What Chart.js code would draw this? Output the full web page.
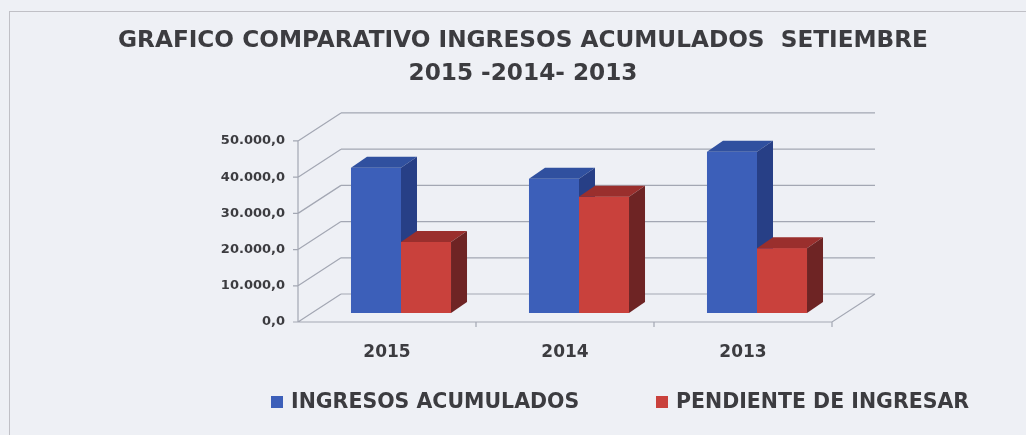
<!DOCTYPE html>
<html lang="es">
<head>
    <meta charset="UTF-8">
    <title>Grafico comparativo ingresos acumulados</title>
    <style>
        body {
            margin: 0;
            background: #eef0f5;
        }
        .frame {
            position: absolute;
            left: 9px;
            top: 11px;
            width: 1040px;
            height: 460px;
            border: 1px solid #c0c0c6;
        }
        canvas {
            position: absolute;
            left: 0;
            top: 0;
        }
    </style>
    <script src="https://cdn.jsdelivr.net/npm/chart.js"></script>
</head>
<body>
<div class="frame"></div>
<canvas id="chart" width="1026" height="435"></canvas>

<script>
    // data
    const years = ['2015', '2014', '2013'];
    const ingresosAcumulados = [40100, 37100, 44500];
    const pendienteIngresar = [19600, 32100, 17900];
    const yTicks = [0, 10000, 20000, 30000, 40000, 50000];

    // 3d look
    const wallDx = 43, wallDy = 28;   // back wall offset
    const barDx = 14, barDy = 9;      // bars stand a bit behind the front edge
    const depthX = 16, depthY = 11;   // depth of each bar
    const gridColor = '#a3a7b3';
    const textColor = '#3c3c40';
    const fontFamily = '"DejaVu Sans", sans-serif';

    const faces = [
        { front: '#3c5fb9', top: '#30509f', side: '#273f86' },
        { front: '#c9413c', top: '#9a2f2d', side: '#6e2424' }
    ];

    function fmt(v) {
        // 40000 -> 40.000,0
        return v.toLocaleString('de-DE', { minimumFractionDigits: 1, maximumFractionDigits: 1 });
    }

    function drawFaces(ctx, meta, c) {
        meta.data.forEach(bar => {
            const l = bar.x - bar.width / 2, r = bar.x + bar.width / 2;
            const t = bar.y, b = bar.base;
            ctx.fillStyle = c.top;
            ctx.beginPath();
            ctx.moveTo(l, t);
            ctx.lineTo(l + depthX, t - depthY);
            ctx.lineTo(r + depthX, t - depthY);
            ctx.lineTo(r, t);
            ctx.closePath();
            ctx.fill();
            ctx.fillStyle = c.side;
            ctx.beginPath();
            ctx.moveTo(r, t);
            ctx.lineTo(r + depthX, t - depthY);
            ctx.lineTo(r + depthX, b - depthY);
            ctx.lineTo(r, b);
            ctx.closePath();
            ctx.fill();
        });
    }

    const walls3d = {
        id: 'walls3d',
        beforeDatasetsDraw(chart) {
            const ctx = chart.ctx;
            const y = chart.scales.y;
            const left = chart.chartArea.left, right = chart.chartArea.right;
            const bottom = y.getPixelForValue(0);
            ctx.save();
            ctx.strokeStyle = gridColor;
            ctx.lineWidth = 1.2;
            ctx.beginPath();
            yTicks.forEach(v => {
                const py = y.getPixelForValue(v);
                // back wall line
                ctx.moveTo(left + wallDx, py - wallDy);
                ctx.lineTo(right + wallDx, py - wallDy);
                // side wall diagonal
                ctx.moveTo(left, py);
                ctx.lineTo(left + wallDx, py - wallDy);
                // tick mark
                ctx.moveTo(left - 5, py);
                ctx.lineTo(left, py);
            });
            // front axis
            ctx.moveTo(left, y.getPixelForValue(yTicks[yTicks.length - 1]));
            ctx.lineTo(left, bottom);
            // floor
            ctx.moveTo(left, bottom);
            ctx.lineTo(right, bottom);
            ctx.lineTo(right + wallDx, bottom - wallDy);
            // category ticks
            for (let i = 1; i <= years.length; i++) {
                const px = left + (right - left) * i / years.length;
                ctx.moveTo(px, bottom);
                ctx.lineTo(px, bottom + 5);
            }
            ctx.stroke();
            ctx.restore();

            ctx.save();
            ctx.translate(barDx, -barDy);
        },
        afterDatasetsDraw(chart) {
            const ctx = chart.ctx;
            // chart.js paints the red set first, so repaint it over the blue depth
            const blue = chart.getDatasetMeta(0);
            const red = chart.getDatasetMeta(1);
            drawFaces(ctx, blue, faces[0]);
            red.data.forEach(el => el.draw(ctx));
            drawFaces(ctx, red, faces[1]);
            ctx.restore();
        },
        afterDraw(chart) {
            // legend
            const ctx = chart.ctx;
            const items = [{ x: 271 }, { x: 656 }];
            ctx.save();
            ctx.font = 'bold 20.5px ' + fontFamily;
            ctx.textBaseline = 'middle';
            chart.data.datasets.forEach((ds, i) => {
                ctx.fillStyle = ds.backgroundColor;
                ctx.fillRect(items[i].x, 396, 12, 12);
                ctx.fillStyle = textColor;
                ctx.fillText(ds.label, items[i].x + 20, 403);
            });
            ctx.restore();
        }
    };

    new Chart(document.getElementById('chart'), {
        type: 'bar',
        data: {
            labels: years,
            datasets: [
                {
                    label: 'INGRESOS ACUMULADOS',
                    data: ingresosAcumulados,
                    backgroundColor: faces[0].front,
                    categoryPercentage: 0.562,
                    barPercentage: 1,
                    clip: false
                },
                {
                    label: 'PENDIENTE DE INGRESAR',
                    data: pendienteIngresar,
                    backgroundColor: faces[1].front,
                    categoryPercentage: 0.562,
                    barPercentage: 1,
                    clip: false
                }
            ]
        },
        options: {
            responsive: false,
            animation: false,
            layout: {
                padding: { left: 20, right: 0, top: 0, bottom: 0 }
            },
            scales: {
                x: {
                    grid: { display: false, drawTicks: false },
                    border: { display: false },
                    ticks: {
                        padding: 20,
                        color: textColor,
                        font: { family: fontFamily, size: 17, weight: 'bold' }
                    },
                    afterFit(s) { s.height = 113; }
                },
                y: {
                    min: 0,
                    max: 50000,
                    afterBuildTicks(s) { s.ticks = yTicks.map(v => ({ value: v })); },
                    grid: { display: false, drawTicks: false },
                    border: { display: false },
                    ticks: {
                        padding: 13,
                        color: textColor,
                        font: { family: fontFamily, size: 13, weight: 'bold' },
                        callback: v => fmt(v)
                    },
                    afterFit(s) { s.width = 278; }
                },
                // empty axis on the right, only keeps room for the 3d wall
                yRight: {
                    position: 'right',
                    min: 0,
                    max: 50000,
                    grid: { display: false, drawTicks: false },
                    border: { display: false },
                    ticks: { display: false },
                    afterFit(s) { s.width = 194; }
                }
            },
            plugins: {
                legend: { display: false },
                tooltip: { enabled: false },
                title: {
                    display: true,
                    text: ['GRAFICO COMPARATIVO INGRESOS ACUMULADOS  SETIEMBRE', '2015 -2014- 2013'],
                    color: textColor,
                    font: { family: fontFamily, size: 23.2, weight: 'bold', lineHeight: 1.4 },
                    padding: { top: 25, bottom: 51 }
                }
            }
        },
        plugins: [walls3d]
    });
</script>
</body>
</html>
